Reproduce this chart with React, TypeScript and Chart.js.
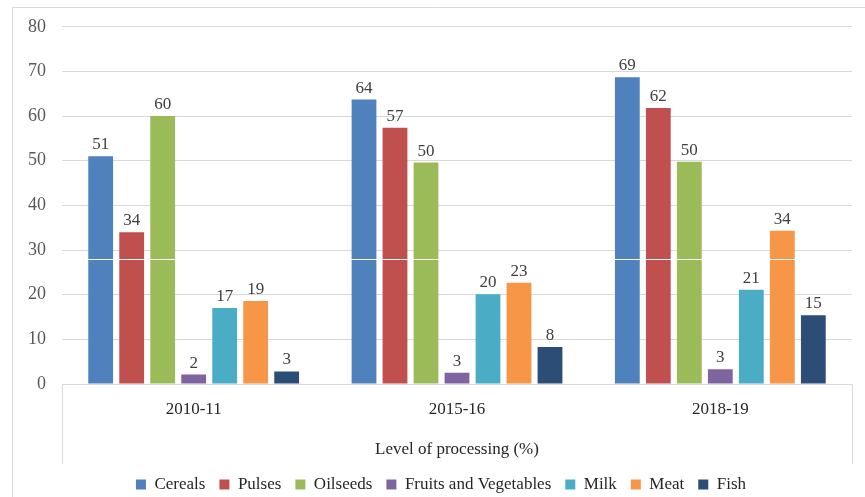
import React, { useEffect, useRef } from "react";
import { Chart, registerables } from "chart.js";

Chart.register(...registerables);

const categories = ["2010-11", "2015-16", "2018-19"];
const seriesNames = ["Cereals", "Pulses", "Oilseeds", "Fruits and Vegetables", "Milk", "Meat", "Fish"];
const cereals = [51.0, 63.7, 68.7];
const pulses = [34.0, 57.4, 61.8];
const oilseeds = [60.0, 49.6, 49.8];
const fruitsVeg = [2.1, 2.5, 3.3];
const milk = [17.0, 20.1, 21.1];
const meat = [18.6, 22.7, 34.3];
const fish = [2.8, 8.3, 15.4];
const seriesValues = [cereals, pulses, oilseeds, fruitsVeg, milk, meat, fish];
const seriesColors = ["#4F81BD", "#C0504D", "#9BBB59", "#8064A2", "#4BACC6", "#F79646", "#2C4D75"];
const yTicks = [0, 10, 20, 30, 40, 50, 60, 70, 80];
const xTitle = "Level of processing (%)";
const streakValue = 28;

const FONT = "'Liberation Serif', 'Times New Roman', serif";

const decorPlugin = {
  id: "decor",
  afterLayout(chart: any) {
    if (chart.legend) {
      chart.legend.left += 15;
      chart.legend.right += 15;
    }
  },
  afterDatasetsDraw(chart: any) {
    const { ctx, chartArea, scales } = chart;
    ctx.save();
    const ys = Math.round(scales.y.getPixelForValue(streakValue)) + 0.5;
    ctx.strokeStyle = "#ffffff";
    ctx.lineWidth = 1;
    ctx.beginPath();
    ctx.moveTo(chartArea.left, ys);
    ctx.lineTo(chartArea.right, ys);
    ctx.stroke();
    ctx.fillStyle = "#404040";
    ctx.font = `17px ${FONT}`;
    ctx.textAlign = "center";
    ctx.textBaseline = "bottom";
    chart.data.datasets.forEach((ds: any, di: number) => {
      const meta = chart.getDatasetMeta(di);
      meta.data.forEach((bar: any, i: number) => {
        const v = ds.data[i];
        ctx.fillText(String(Math.round(v)), bar.x, bar.y - 3);
      });
    });
    ctx.restore();
  },
  afterDraw(chart: any) {
    const { ctx, chartArea, scales, width, height } = chart;
    ctx.save();
    ctx.strokeStyle = "#d9d9d9";
    ctx.lineWidth = 1;
    const xs = scales.x;
    const boxBottom = xs.bottom + 2;
    ctx.beginPath();
    ctx.moveTo(Math.round(chartArea.left) + 0.5, chartArea.bottom);
    ctx.lineTo(Math.round(chartArea.left) + 0.5, boxBottom);
    ctx.moveTo(Math.round(chartArea.right) + 0.5, chartArea.bottom);
    ctx.lineTo(Math.round(chartArea.right) + 0.5, boxBottom);
    ctx.stroke();
    ctx.beginPath();
    ctx.moveTo(12.5, height);
    ctx.lineTo(12.5, 7.5);
    ctx.lineTo(width, 7.5);
    ctx.stroke();
    ctx.restore();
  },
};

export default function App() {
  const ref = useRef<HTMLCanvasElement>(null);
  useEffect(() => {
    document.body.style.margin = "0";
    const canvas = ref.current!;
    const chart = new Chart(canvas, {
      type: "bar",
      data: {
        labels: categories,
        datasets: seriesNames.map((name, i) => ({
          label: name,
          data: seriesValues[i],
          backgroundColor: seriesColors[i],
          borderWidth: 0,
          categoryPercentage: 0.824,
          barPercentage: 0.8,
        })),
      },
      options: {
        animation: false,
        responsive: false,
        maintainAspectRatio: false,
        layout: { padding: { left: 0, right: 13, top: 24, bottom: -6 } },
        plugins: {
          legend: {
            position: "bottom",
            labels: {
              boxWidth: 10,
              boxHeight: 10,
              padding: 14,
              color: "#262626",
              font: { family: FONT, size: 17 },
            },
          },
          tooltip: { enabled: false },
        },
        scales: {
          x: {
            grid: { display: false, drawTicks: false },
            border: { display: true, color: "#d9d9d9" },
            ticks: { color: "#262626", font: { family: FONT, size: 17 }, padding: 15 },
            title: {
              display: true,
              text: xTitle,
              color: "#262626",
              font: { family: FONT, size: 17 },
              padding: { top: 0, bottom: 2 },
            },
            afterFit(scale: any) {
              scale.height = 78;
            },
          },
          y: {
            min: 0,
            max: 80,
            afterBuildTicks(scale: any) {
              scale.ticks = yTicks.map((v) => ({ value: v }));
            },
            grid: { color: "#d9d9d9", drawTicks: false },
            border: { display: false },
            ticks: { color: "#595959", font: { family: FONT, size: 18 }, padding: 16 },
            afterFit(scale: any) {
              scale.width = 62;
            },
          },
        },
      },
      plugins: [decorPlugin],
    });
    return () => chart.destroy();
  }, []);
  return (
    <div style={{ width: 865, height: 497, position: "relative", background: "#fff" }}>
      <canvas ref={ref} width={865} height={497} style={{ display: "block" }} />
    </div>
  );
}
